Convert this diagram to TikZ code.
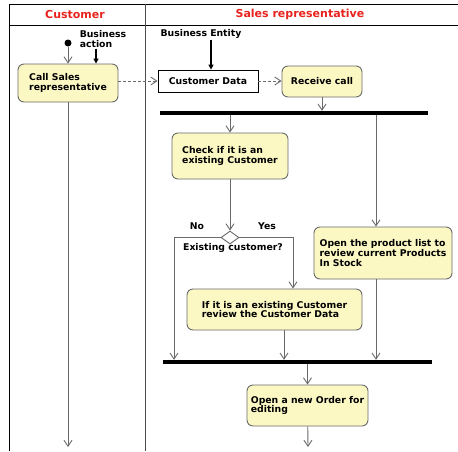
\documentclass[tikz,border=0pt]{standalone}
\usepackage{fontspec}
\setmainfont{DejaVu Sans}
\usetikzlibrary{arrows.meta,shapes.geometric}
\definecolor{notefill}{HTML}{FBF8C4}
\definecolor{lanered}{HTML}{E8231E}
\definecolor{flowgray}{HTML}{6A6A6A}

\begin{document}
\begin{tikzpicture}[x=1pt,y=-1pt,
  txt/.style={font=\fontsize{9.3}{9.6}\selectfont\bfseries, inner sep=1pt},
  activity/.style={txt, draw=flowgray, fill=notefill, rounded corners=6pt, align=left, line width=0.9pt},
  entity/.style={txt, draw=black, fill=white, line width=0.8pt, minimum width=100, minimum height=22},
  bar/.style={fill=black, inner sep=0pt, minimum height=4},
  flow/.style={draw=flowgray, line width=0.9pt, -{Straight Barb[length=6pt,width=8pt]}},
  dataflow/.style={flow, dash pattern=on 3pt off 2pt},
  trigger/.style={draw=black, line width=1.6pt, -{Triangle[length=5pt,width=5pt]}},
  lane/.style={font=\fontsize{11}{13}\selectfont\bfseries, text=lanered}]
\useasboundingbox (0,0) rectangle (458,451);

% Swimlanes
\draw [line width=0.8pt] (9,451) -- (9,4) -- (458,4);
\draw [line width=0.8pt] (9,25) -- (458,25);
\draw [line width=0.8pt, black!70] (145,4) -- (145,451);
\node [lane] (hcust) at (75,14) {Customer};
\node [lane] (hsales) at (300,14) {Sales representative};

% Customer
\node [circle, fill=black, inner sep=0pt, minimum size=7] (start) at (68,43) {};
\node [txt, align=left] (act) at (103,39) {Business\\action};
\node [activity, minimum width=100, minimum height=38] (call) at (68,83) {Call Sales\\representative};
\coordinate (actx) at (96,0);
\coordinate (custEnd) at (68,447);
\draw [flow] (start) -- (call);
\draw [trigger] (actx |- act.south) -- (actx |- call.north);
\draw [flow] (call) -- (custEnd);

% Sales representative
\node [txt] (ent) at (201,34) {Business Entity};
\node [entity] (data) at (208,81) {Customer Data};
\node [activity, minimum width=80, minimum height=31] (recv) at (322,81.5) {Receive call};
\coordinate (entx) at (211,0);
\draw [trigger] (entx |- ent.south) -- (entx |- data.north);
\draw [dataflow] (call.east |- data.west) -- (data.west);
\draw [dataflow] (data.east) -- (recv.west |- data.east);

% Fork
\node [bar, minimum width=268] (fork) at (294,113) {};
\draw [flow] (recv) -- (recv |- fork.north);

\node [activity, minimum width=116, minimum height=46] (check) at (230,156) {Check if it is an\\existing Customer};
\node [activity, minimum width=138, minimum height=52] (stock) at (383,253) {Open the product list to\\review current Products\\In Stock};
\coordinate (stockx) at (376,0);
\draw [flow] (check |- fork.south) -- (check);
\draw [flow] (stockx |- fork.south) -- (stockx |- stock.north);

% Decision
\node [diamond, draw=flowgray, fill=white, line width=0.9pt, minimum width=18, minimum height=13, inner sep=0pt] (dec) at (230,237.5) {};
\node [txt] (decq) at (233,248) {Existing customer?};
\node [txt] (no) at (197,226) {No};
\node [txt] (yes) at (267,226) {Yes};
\draw [flow] (check) -- (dec);

\node [activity, minimum width=175, minimum height=41] (review) at (274.5,309.5) {If it is an existing Customer\\review the Customer Data};

% Join
\node [bar, minimum width=269] (join) at (297.5,362) {};
\coordinate (nox) at (174,0);
\coordinate (yesx) at (293,0);
\coordinate (revx) at (284,0);
\draw [flow] (dec.west) -| (nox |- join.north);
\draw [flow] (dec.east) -| (yesx |- review.north);
\draw [flow] (revx |- review.south) -- (revx |- join.north);
\draw [flow] (stockx |- stock.south) -- (stockx |- join.north);

\node [activity, minimum width=121, minimum height=41] (order) at (307.5,405.5) {Open a new Order for\\editing};
\coordinate (orderEnd) at (308,447);
\draw [flow] (order |- join.south) -- (order);
\draw [flow] (order) -- (orderEnd);
\end{tikzpicture}
\end{document}
